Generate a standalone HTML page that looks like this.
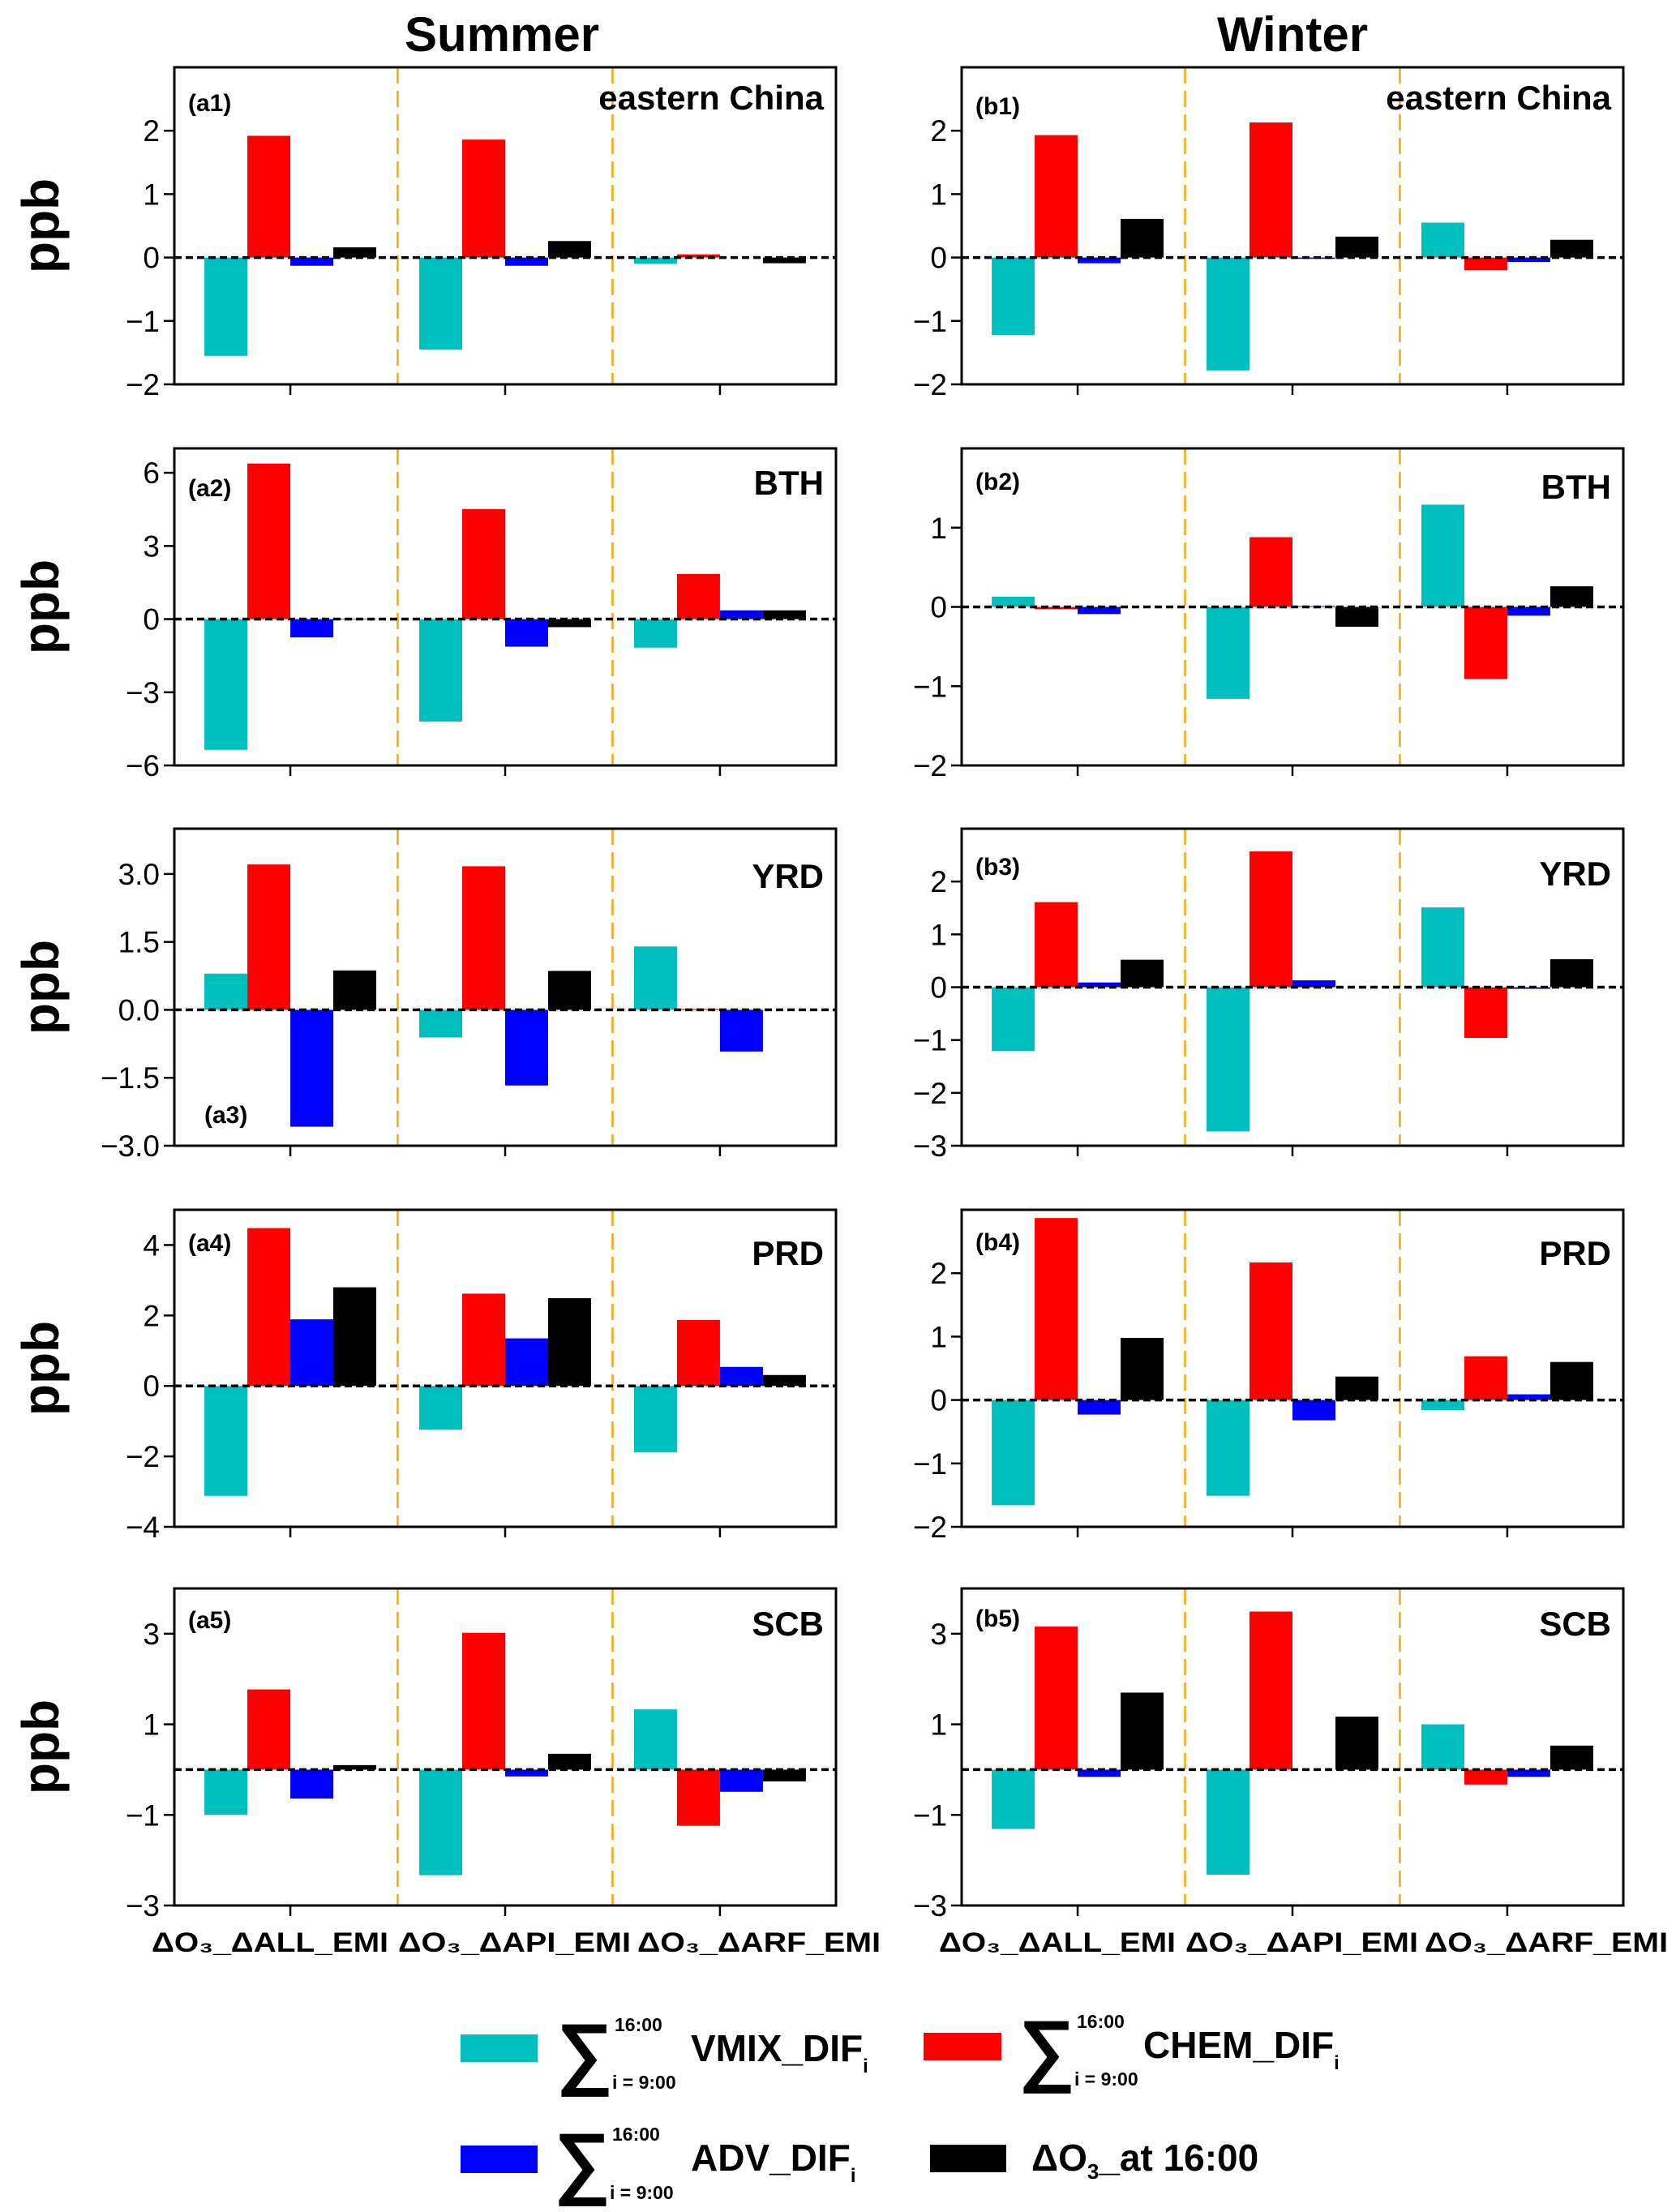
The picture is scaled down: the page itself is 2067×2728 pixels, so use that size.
<!DOCTYPE html>
<html><head><meta charset="utf-8"><style>
html,body{margin:0;padding:0;background:#fff;}
svg{display:block;font-family:"Liberation Sans",Arial,sans-serif;}
</style></head><body>
<svg id="fig" width="2067" height="2728" viewBox="0 0 2067 2728" xmlns="http://www.w3.org/2000/svg">
<rect x="0" y="0" width="2067" height="2728" fill="#fff"/>
<text x="619" y="63" font-size="60" font-weight="bold" text-anchor="middle">Summer</text>
<text x="1594" y="63" font-size="60" font-weight="bold" text-anchor="middle">Winter</text>
<g id="panels"></g>
<g id="legend">
  <rect x="568" y="2509" width="95" height="34" fill="#00BFBF"/>
  <text x="686" y="2564" font-size="98" font-weight="bold">∑</text>
  <text x="758" y="2505" font-size="23" font-weight="bold">16:00</text>
  <text x="755" y="2576" font-size="23" font-weight="bold">i = 9:00</text>
  <text x="852" y="2542" font-size="46" font-weight="bold">VMIX_DIF<tspan font-size="24" dy="14">i</tspan></text>

  <rect x="1139" y="2507" width="96" height="34" fill="#FF0000"/>
  <text x="1256" y="2560" font-size="98" font-weight="bold">∑</text>
  <text x="1328" y="2501" font-size="23" font-weight="bold">16:00</text>
  <text x="1325" y="2572" font-size="23" font-weight="bold">i = 9:00</text>
  <text x="1410" y="2538" font-size="46" font-weight="bold">CHEM_DIF<tspan font-size="24" dy="14">i</tspan></text>

  <rect x="568" y="2646" width="95" height="34" fill="#0000FF"/>
  <text x="683" y="2699" font-size="98" font-weight="bold">∑</text>
  <text x="755" y="2640" font-size="23" font-weight="bold">16:00</text>
  <text x="752" y="2712" font-size="23" font-weight="bold">i = 9:00</text>
  <text x="852" y="2677" font-size="46" font-weight="bold">ADV_DIF<tspan font-size="24" dy="14">i</tspan></text>

  <rect x="1147" y="2645" width="94" height="34" fill="#000"/>
  <text x="1272" y="2677" font-size="46" font-weight="bold">ΔO<tspan font-size="26" dy="10">3</tspan><tspan dy="-10">_at 16:00</tspan></text>
</g>
</svg>
<script>
// panel order: a1..a5 (summer), b1..b5 (winter)
const panelIds = ['a1','a2','a3','a4','a5','b1','b2','b3','b4','b5'];
const regions = ['eastern China','BTH','YRD','PRD','SCB','eastern China','BTH','YRD','PRD','SCB'];
const categories = ['ΔALL_EMI','ΔAPI_EMI','ΔARF_EMI'];
const yMin = [-2,-6,-3,-4,-3,-2,-2,-3,-2,-3];
const yMax = [3,7,4,5,4,3,2,3,3,4];
const yTicks = [
  [-2,-1,0,1,2],[-6,-3,0,3,6],[-3,-1.5,0,1.5,3],[-4,-2,0,2,4],[-3,-1,1,3],
  [-2,-1,0,1,2],[-2,-1,0,1],[-3,-2,-1,0,1,2],[-2,-1,0,1,2],[-3,-1,1,3]
];
const yTickLabels = [
  ['−2','−1','0','1','2'],['−6','−3','0','3','6'],['−3.0','−1.5','0.0','1.5','3.0'],['−4','−2','0','2','4'],['−3','−1','1','3'],
  ['−2','−1','0','1','2'],['−2','−1','0','1'],['−3','−2','−1','0','1','2'],['−2','−1','0','1','2'],['−3','−1','1','3']
];
const vmix = [
  [-1.55,-1.45,-0.10],[-5.36,-4.20,-1.17],[0.80,-0.61,1.40],[-3.12,-1.24,-1.88],[-1.00,-2.33,1.33],
  [-1.22,-1.78,0.55],[0.13,-1.16,1.29],[-1.21,-2.73,1.51],[-1.66,-1.51,-0.16],[-1.31,-2.32,1.00]
];
const chem = [
  [1.92,1.86,0.05],[6.38,4.51,1.85],[3.21,3.17,0.02],[4.48,2.62,1.87],[1.77,3.02,-1.24],
  [1.93,2.13,-0.20],[-0.03,0.88,-0.91],[1.61,2.57,-0.96],[2.87,2.17,0.69],[3.16,3.49,-0.33]
];
const adv = [
  [-0.13,-0.13,0.00],[-0.75,-1.13,0.36],[-2.58,-1.67,-0.92],[1.89,1.35,0.54],[-0.64,-0.15,-0.49],
  [-0.09,-0.02,-0.07],[-0.09,0.01,-0.11],[0.09,0.13,-0.03],[-0.23,-0.32,0.09],[-0.16,0.00,-0.16]
];
const o3 = [
  [0.16,0.26,-0.09],[0.02,-0.33,0.36],[0.87,0.86,0.00],[2.80,2.49,0.31],[0.10,0.35,-0.26],
  [0.61,0.33,0.28],[0.00,-0.25,0.26],[0.52,0.00,0.53],[0.98,0.37,0.60],[1.70,1.17,0.53]
];

const NS = 'http://www.w3.org/2000/svg';
const colLeft = [215, 1186];
const rowTop = [83, 553, 1022, 1492, 1959];
const PW = 816, PH = 391;
const XMIN = -0.54, XMAX = 2.54, BW = 0.2;
const seriesList = [vmix, chem, adv, o3];
const seriesColors = ['#00BFBF','#FF0000','#0000FF','#000000'];
const seriesNames = ['vmix','chem','adv','o3'];
const labelOffsets = [54,59,0,51,49,58,51,57,50,47];
const regionOffsets = [52,57,73,68,58,52,62,70,68,58];
const root = document.getElementById('panels');

function mk(tag, attrs, parent){
  const e = document.createElementNS(NS, tag);
  for (const k in attrs) e.setAttribute(k, attrs[k]);
  parent.appendChild(e);
  return e;
}

panelIds.forEach((pid, p) => {
  const col = p < 5 ? 0 : 1, row = p % 5;
  const L = colLeft[col], T = rowTop[row];
  const xs = v => L + (v - XMIN) / (XMAX - XMIN) * PW;
  const ys = v => T + (yMax[p] - v) / (yMax[p] - yMin[p]) * PH;
  const g = mk('g', {}, root);
  
  

  for (let c = 0; c < 3; c++) {
    seriesList.forEach((arr, s) => {
      const v = arr[p][c];
      const x0 = xs(c + (s - 2) * BW);
      const y0 = ys(Math.max(v, 0)), y1 = ys(Math.min(v, 0));
      const r = mk('rect', {x: x0, y: y0, width: xs(BW) - xs(0), height: Math.max(y1 - y0, 0), fill: seriesColors[s]}, g);
      
      
    });
  }
  [0.5, 1.5].forEach((d, i) => {
    const ln = mk('line', {x1: xs(d), x2: xs(d), y1: T, y2: T + PH, stroke: '#FFA500', 'stroke-width': 2.5, 'stroke-dasharray': '20,9'}, g);
    
    
  });
  const z = mk('line', {x1: L, x2: L + PW, y1: ys(0), y2: ys(0), stroke: '#000', 'stroke-width': 3.5, 'stroke-dasharray': '9,5'}, g);
  
  
  const f = mk('rect', {x: L, y: T, width: PW, height: PH, fill: 'none', stroke: '#000', 'stroke-width': 3}, g);
  
  
  yTicks[p].forEach((t, i) => {
    const y = ys(t);
    const tk = mk('line', {x1: L - 13, x2: L, y1: y, y2: y, stroke: '#000', 'stroke-width': 2.5}, g);
    
    
    const tl = mk('text', {x: L - 18, y: y + 13, 'font-size': 37, 'text-anchor': 'end'}, g);
    tl.textContent = yTickLabels[p][i];
    
    
  });
  categories.forEach((cat, c) => {
    const tk = mk('line', {x1: xs(c), x2: xs(c), y1: T + PH, y2: T + PH + 13, stroke: '#000', 'stroke-width': 2.5}, g);
    
    
  });
  if (col === 0) {
    const yt = mk('text', {x: 0, y: 0, 'font-size': 64, 'font-weight': 'bold', 'text-anchor': 'middle',
      transform: 'translate(' + (L - 143) + ',' + (T + PH / 2) + ') rotate(-90)'}, g);
    yt.textContent = 'ppb';
    
    
  }
  const lab = pid === 'a3'
    ? mk('text', {x: L + 37, y: T + 363, 'font-size': 30, 'font-weight': 'bold'}, g)
    : mk('text', {x: L + 17, y: T + labelOffsets[p], 'font-size': 30, 'font-weight': 'bold'}, g);
  lab.textContent = '(' + pid + ')';
  
  
  const rg = mk('text', {x: L + PW - 15, y: T + regionOffsets[p], 'font-size': 42, 'font-weight': 'bold', 'text-anchor': 'end'}, g);
  rg.textContent = regions[p];
  
  

  if (row === 4) {
    const starts = [-28, 276, 571], lens = [292, 287, 300];
    categories.forEach((cat, c) => {
      const t = mk('text', {x: L + starts[c], y: 2407, 'font-size': 34, 'font-weight': 'bold', textLength: lens[c], lengthAdjust: 'spacingAndGlyphs'}, g);
      
      
      const a = document.createElementNS(NS, 'tspan'); a.textContent = 'ΔO'; t.appendChild(a);
      const b = document.createElementNS(NS, 'tspan'); b.textContent = '₃'; t.appendChild(b);
      const d = document.createElementNS(NS, 'tspan'); d.textContent = '_' + cat; t.appendChild(d);
    });
  }
});
</script>
</body></html>
